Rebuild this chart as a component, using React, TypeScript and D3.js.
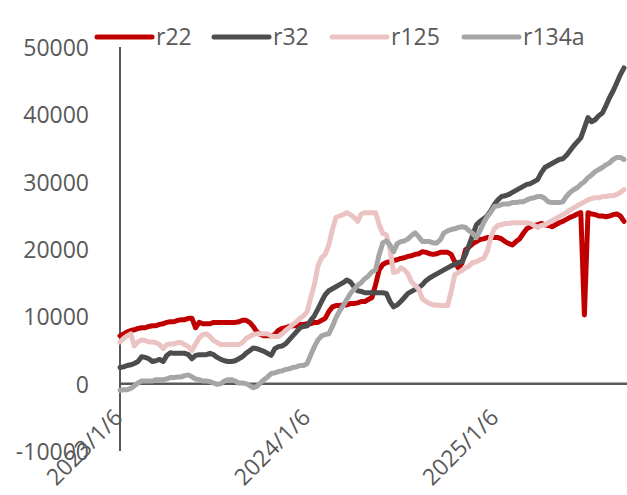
import React from "react";
import * as d3 from "d3";

// Weekly observations starting 2023/1/6
const startDate = "2023-01-06";

const r22 = [
  7100, 7400, 7700, 7900, 8000, 8200, 8300, 8300, 8500, 8600,
  8600, 8800, 8900, 9100, 9200, 9200, 9400, 9500, 9500, 9700,
  9700, 8300, 9100, 8900, 8900, 8900, 9100, 9100, 9100, 9100,
  9100, 9100, 9100, 9200, 9400, 9400, 9100, 8500, 7700, 7300,
  7100, 7100, 7100, 7300, 7900, 8200, 8300, 8500, 8600, 8600,
  8800, 8800, 8900, 8900, 9100, 9100, 9400, 9700, 10700, 11400,
  11600, 11600, 11700, 11700, 11900, 11900, 12000, 12200, 12200, 12500,
  12800, 14700, 16900, 17700, 18000, 18100, 18300, 18400, 18600, 18700,
  18900, 19000, 19200, 19300, 19600, 19500, 19300, 19200, 19300, 19500,
  19500, 19500, 19200, 18100, 17200, 17900, 19900, 20300, 20800, 21100,
  21400, 21500, 21700, 21700, 21700, 21700, 21500, 21100, 20800, 20600,
  21100, 21500, 22300, 23000, 23300, 23500, 23600, 23800, 23600, 23500,
  23300, 23600, 23900, 24100, 24400, 24700, 24900, 25200, 25400, 10200,
  25400, 25200, 25100, 24900, 24900, 24800, 24900, 25100, 25200, 24900,
  24100,
];

const r32 = [
  2400, 2500, 2700, 2800, 3000, 3300, 4000, 3900, 3700, 3300,
  3400, 3600, 3300, 4200, 4600, 4500, 4500, 4500, 4500, 4300,
  3700, 4200, 4300, 4300, 4300, 4500, 4300, 3900, 3600, 3400,
  3300, 3300, 3400, 3700, 4000, 4500, 4900, 5300, 5200, 5000,
  4800, 4500, 4200, 5200, 5500, 5600, 5900, 6500, 7100, 7700,
  8300, 8500, 8600, 9400, 10100, 11100, 12200, 13200, 13800, 14100,
  14400, 14700, 15000, 15400, 15100, 14400, 13800, 13700, 13500, 13500,
  13500, 13500, 13500, 13500, 13400, 12200, 11400, 11700, 12200, 12800,
  13400, 13700, 14000, 14300, 14700, 15300, 15700, 16000, 16300, 16600,
  16900, 17200, 17500, 17700, 18000, 18100, 19200, 20600, 22100, 23600,
  24100, 24500, 24900, 25700, 26600, 27300, 27800, 27900, 28100, 28400,
  28700, 29000, 29300, 29600, 29700, 30000, 30300, 31300, 32100, 32400,
  32700, 33000, 33300, 33400, 33900, 34600, 35300, 35900, 36500, 38000,
  39500, 38900, 39200, 39800, 40200, 41300, 42500, 43500, 44700, 45900,
  46900,
];

const r125 = [
  6200, 6700, 7100, 7400, 5600, 6200, 6500, 6400, 6200, 6200,
  6100, 5800, 5200, 5800, 5900, 5900, 6100, 6100, 5800, 5500,
  4900, 5900, 6800, 7300, 7400, 7000, 6400, 6100, 5800, 5800,
  5800, 5800, 5800, 5800, 6100, 6700, 7000, 7300, 7400, 7400,
  7400, 7400, 7100, 7000, 7000, 7400, 7900, 8300, 8800, 9200,
  9700, 10100, 10700, 12800, 14700, 17500, 18700, 19200, 20600, 22900,
  24700, 24900, 25100, 25400, 25100, 24700, 24100, 25200, 25400, 25400,
  25400, 25400, 23600, 22300, 22100, 19900, 16500, 16600, 17200, 16900,
  16300, 15100, 14600, 14000, 12600, 12200, 11900, 11700, 11700, 11600,
  11600, 11600, 13700, 16200, 16500, 16800, 17200, 17500, 18000, 18100,
  18400, 18600, 19600, 21700, 23000, 23500, 23600, 23800, 23800, 23900,
  23900, 23900, 23900, 23900, 23800, 23500, 23200, 23500, 23600, 23900,
  24200, 24500, 24800, 25100, 25400, 25800, 26100, 26400, 26700, 27000,
  27300, 27500, 27600, 27600, 27800, 27800, 27900, 27900, 28100, 28400,
  28800,
];

const r134a = [
  -1000, -900, -900, -700, -300, 100, 400, 400, 400, 400,
  600, 600, 600, 700, 900, 900, 1000, 1000, 1200, 1300,
  1000, 700, 600, 400, 400, 300, 100, -100, 0, 400,
  600, 600, 400, 100, 100, 0, -300, -600, -400, 100,
  600, 1000, 1500, 1600, 1800, 1900, 2100, 2200, 2400, 2500,
  2700, 2700, 3000, 4300, 5500, 6500, 7100, 7300, 7400, 8500,
  9800, 10800, 11600, 12500, 13400, 14000, 14600, 15000, 15600, 16000,
  16600, 16900, 19200, 20900, 21200, 20600, 19600, 20800, 21100, 21200,
  21500, 22000, 22400, 21800, 21100, 21100, 21100, 20900, 20900, 21400,
  22400, 22700, 22900, 23000, 23200, 23300, 23200, 22700, 22300, 21700,
  22700, 23900, 24800, 25500, 26300, 26400, 26600, 26700, 26700, 26900,
  26900, 27000, 27000, 27300, 27500, 27600, 27800, 27800, 27500, 27000,
  26900, 26900, 26900, 27000, 27800, 28400, 28800, 29100, 29600, 30000,
  30600, 31000, 31500, 31800, 32100, 32500, 32800, 33300, 33600, 33600,
  33300,
];

const seriesNames = ["r22", "r32", "r125", "r134a"];
const seriesColors = ["#C00000", "#4D4D4D", "#EBC3C3", "#A6A6A6"];
const seriesValues = [r22, r32, r125, r134a];

const yTicks = [-10000, 0, 10000, 20000, 30000, 40000, 50000];
const xTickLabels = ["2023/1/6", "2024/1/6", "2025/1/6"];
const xTickDates = ["2023-01-06", "2024-01-06", "2025-01-06"];
const xDomainEnd = "2025-09-12";

const parse = d3.utcParse("%Y-%m-%d");

export default function App() {
  const W = 627;
  const H = 495;
  const font = "'Open Sans', 'Liberation Sans', sans-serif";
  const textColor = "#595959";

  const start = parse(startDate)!;
  const dates = r22.map((_, i) => d3.utcDay.offset(start, 7 * i));

  const x = d3.scaleUtc().domain([start, parse(xDomainEnd)!]).range([120, 624]);
  const y = d3.scaleLinear().domain([-10000, 50000]).range([451, 47]);

  const line = d3
    .line<number>()
    .x((_, i) => x(dates[i]))
    .y((v) => y(v));

  const legendX = [97, 214, 332, 464];

  return (
    <svg
      width={W}
      height={H}
      style={{ position: "absolute", left: 0, top: 0, background: "#fff" }}
      fontFamily={font}
    >
      <rect x={0} y={0} width={W} height={H} fill="#fff" />
      {/* y tick labels */}
      {yTicks.map((t) => (
        <text
          key={t}
          x={89}
          y={y(t) + 9}
          textAnchor="end"
          fontSize={23}
          fill={textColor}
        >
          {t}
        </text>
      ))}
      {/* axes */}
      <line x1={120} x2={120} y1={y(50000)} y2={y(-10000)} stroke="#595959" strokeWidth={2} />
      <line x1={120} x2={627} y1={y(0)} y2={y(0)} stroke="#595959" strokeWidth={2.5} />
      {/* series */}
      {seriesValues.map((vals, k) => (
        <path
          key={seriesNames[k]}
          d={line(vals) || ""}
          fill="none"
          stroke={seriesColors[k]}
          strokeWidth={5}
          strokeLinejoin="round"
          strokeLinecap="round"
        />
      ))}
      {/* x tick labels */}
      {xTickDates.map((d, i) => {
        const px = x(parse(d)!) + 4;
        const py = 419;
        return (
          <text
            key={d}
            x={px}
            y={py}
            textAnchor="end"
            fontSize={23}
            fill={textColor}
            transform={`rotate(-45 ${px} ${py})`}
          >
            {xTickLabels[i]}
          </text>
        );
      })}
      {/* legend */}
      {seriesNames.map((n, k) => (
        <g key={n}>
          <line
            x1={legendX[k]}
            x2={legendX[k] + 55}
            y1={37}
            y2={37}
            stroke={seriesColors[k]}
            strokeWidth={5}
            strokeLinecap="round"
          />
          <text x={legendX[k] + 59} y={45} fontSize={23} fill={textColor}>
            {n}
          </text>
        </g>
      ))}
    </svg>
  );
}
